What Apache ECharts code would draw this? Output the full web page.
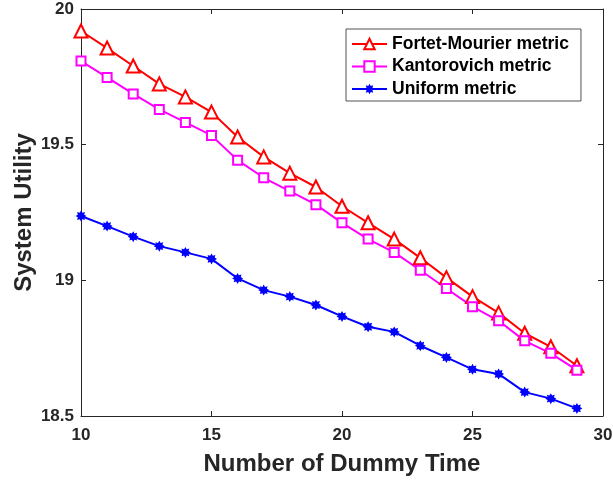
<!DOCTYPE html>
<html>
<head>
    <meta charset="utf-8">
    <title>System Utility</title>
    <script src="https://cdn.jsdelivr.net/npm/echarts@6/dist/echarts.min.js"></script>
    <style type="text/css">
        body { margin: 0; background: #fff; }
        #main { width: 613px; height: 480px; }
    </style>
</head>
<body>
    <div id="main"></div>
    <script type="text/javascript">
        // values
        var dummyTime = [10, 11, 12, 13, 14, 15, 16, 17, 18, 19, 20, 21, 22, 23, 24, 25, 26, 27, 28, 29];
        var fortetMourier = [19.919, 19.856, 19.79, 19.724, 19.676, 19.62, 19.528, 19.455, 19.395, 19.344,
                             19.273, 19.212, 19.152, 19.083, 19.01, 18.94, 18.88, 18.805, 18.755, 18.685];
        var kantorovich = [19.808, 19.748, 19.687, 19.63, 19.582, 19.534, 19.443, 19.378, 19.329, 19.279,
                           19.212, 19.152, 19.103, 19.037, 18.97, 18.903, 18.851, 18.777, 18.731, 18.669];
        var uniform = [19.237, 19.2, 19.161, 19.126, 19.103, 19.079, 19.007, 18.964, 18.94, 18.909,
                       18.867, 18.829, 18.81, 18.759, 18.716, 18.672, 18.655, 18.588, 18.564, 18.528];
        var seriesNames = ['Fortet-Mourier metric', 'Kantorovich metric', 'Uniform metric'];

        var font = 'Liberation Sans';
        var axisCol = '#262626';
        // 8-point star, stands in for matlab's '*' marker
        var star = 'path://M0,-10L2.4,-5.8L7.1,-7.1L5.8,-2.4L10,0L5.8,2.4L7.1,7.1L2.4,5.8L0,10L-2.4,5.8L-7.1,7.1L-5.8,2.4L-10,0L-5.8,-2.4L-7.1,-7.1L-2.4,-5.8Z';

        function pairs(ys) {
            return dummyTime.map(function (x, i) { return [x, ys[i]]; });
        }

        var boxAxis = {
            axisLine: { show: true, lineStyle: { color: axisCol, width: 1 } },
            axisTick: { show: true, inside: true, length: 5, lineStyle: { color: axisCol } },
            splitLine: { show: false }
        };

        var myChart = echarts.init(document.getElementById('main'));
        myChart.setOption({
            animation: false,
            backgroundColor: '#fff',
            grid: { left: 81, right: 10, top: 9, bottom: 64, outerBoundsMode: 'none' },
            legend: {
                orient: 'vertical',
                left: 346,
                top: 29,
                padding: [6, 12, 3, 5],
                itemGap: 4.5,
                itemWidth: 35,
                itemHeight: 13,
                borderColor: axisCol,
                borderWidth: 0.8,
                backgroundColor: '#fff',
                textStyle: { fontFamily: font, fontWeight: 'bold', fontSize: 17.5, color: '#000' },
                data: seriesNames
            },
            xAxis: [
                Object.assign({
                    type: 'value', min: 10, max: 30, interval: 5,
                    name: 'Number of Dummy Time', nameLocation: 'middle', nameGap: 36,
                    nameMoveOverlap: false,
                    nameTextStyle: { fontFamily: font, fontWeight: 'bold', fontSize: 24, color: axisCol },
                    axisLabel: { margin: 11, fontFamily: font, fontWeight: 'bold', fontSize: 17, color: axisCol }
                }, boxAxis),
                Object.assign({
                    type: 'value', min: 10, max: 30, interval: 5, position: 'top',
                    axisLabel: { show: false }
                }, boxAxis)
            ],
            yAxis: [
                Object.assign({
                    type: 'value', min: 18.5, max: 20, interval: 0.5,
                    name: 'System Utility', nameLocation: 'middle', nameGap: 45,
                    nameMoveOverlap: false,
                    nameTextStyle: { fontFamily: font, fontWeight: 'bold', fontSize: 24, color: axisCol },
                    axisLabel: { margin: 7, fontFamily: font, fontWeight: 'bold', fontSize: 17, color: axisCol }
                }, boxAxis),
                Object.assign({
                    type: 'value', min: 18.5, max: 20, interval: 0.5, position: 'right',
                    axisLabel: { show: false }
                }, boxAxis)
            ],
            series: [{
                name: seriesNames[0],
                type: 'line',
                data: pairs(fortetMourier),
                symbol: 'emptyTriangle',
                symbolSize: 13,
                lineStyle: { color: '#ff0000', width: 2 },
                itemStyle: { color: '#ff0000', borderColor: '#ff0000', borderWidth: 1.6 }
            }, {
                name: seriesNames[1],
                type: 'line',
                data: pairs(kantorovich),
                symbol: 'emptyRect',
                symbolSize: 9,
                lineStyle: { color: '#ff00ff', width: 2 },
                itemStyle: { color: '#ff00ff', borderColor: '#ff00ff', borderWidth: 1.6 }
            }, {
                name: seriesNames[2],
                type: 'line',
                data: pairs(uniform),
                symbol: star,
                symbolSize: 11,
                lineStyle: { color: '#0000ff', width: 2 },
                itemStyle: { color: '#0000ff' }
            }]
        });
    </script>
</body>
</html>
